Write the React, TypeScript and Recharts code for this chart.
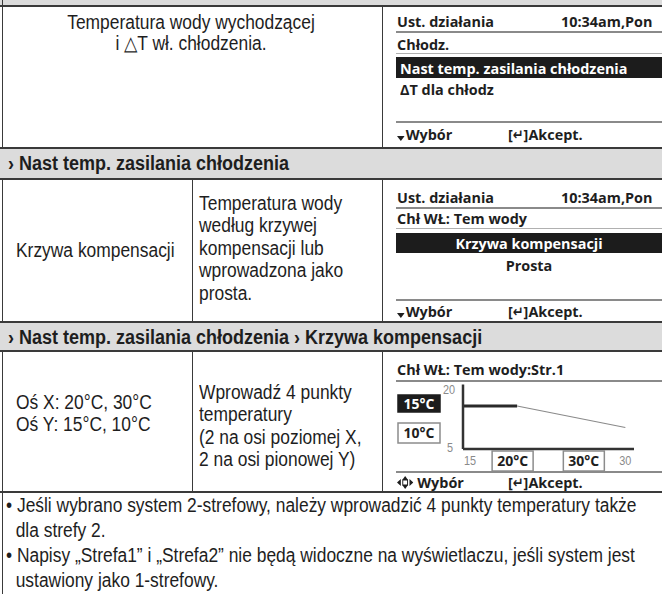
import React from 'react';
import { LineChart, Line, XAxis, YAxis } from 'recharts';

// Krzywa kompensacji (chłodzenie, strefa 1)
const outdoorTemps = [15, 20, 30]; // oś X, °C
const flatSegment = [15, 15, null]; // stała temp. wody do 20°C
const slopeSegment = [null, 15, 10]; // spadek do 10°C przy 30°C
const xTicks = [15, 20, 30];
const yTicks = [5, 10, 15, 20];
const xLimitLabels = ['15', '', '30'];
const xSetpointLabels = ['', '20°C', '30°C'];
const yLimitLabels = ['5', '', '', '20'];
const ySetpointLabels = ['', '10°C', '15°C', ''];

const curveData = outdoorTemps.map((x, i) => ({ x, flat: flatSegment[i], slope: slopeSegment[i] }));

const SANS = '"Liberation Sans", Arial, sans-serif';
const LCD = '"Open Sans", "DejaVu Sans Condensed", sans-serif';
const SQUEEZE = 0.87; // no narrow font installed, so Arial-like text is squeezed
const SQUEEZE_BOLD = 0.9;
const SQUEEZE_LCD = 0.96;
const BORDER = '#3a3a3a';
const BAND = '#dcdcdc';
const INK = '#1e1e1e';

const squeezeAt = (x: number) => `translate(${x * (1 - SQUEEZE)} 0) scale(${SQUEEZE} 1)`;

const YTick = (props: any) => {
  const { x, y, payload } = props;
  const i = yTicks.indexOf(payload.value);
  if (yLimitLabels[i]) {
    const top = payload.value === 20;
    const lx = x - (top ? 20 : 16);
    return (
      <text x={lx} y={y + (top ? 10 : 3)} fontSize={12.5} fill="#8a8a8a" fontFamily={SANS} transform={squeezeAt(lx)}>
        {yLimitLabels[i]}
      </text>
    );
  }
  const selected = payload.value === 15;
  const by = selected ? y - 11 : y - 4.5;
  const bh = selected ? 17 : 20;
  return (
    <g>
      <rect x={x - 65} y={by} width={42} height={bh} fill={selected ? '#1c1c1c' : '#fff'} stroke={selected ? '#1c1c1c' : '#8c8c8c'} strokeWidth={1.5} />
      <text x={x - 44} y={by + bh / 2 + 5} textAnchor="middle" fontSize={14} fontWeight={700} fill={selected ? '#fff' : INK} fontFamily={LCD}>
        {ySetpointLabels[i]}
      </text>
    </g>
  );
};

const XTick = (props: any) => {
  const { x, y, payload } = props;
  const i = xTicks.indexOf(payload.value);
  const bx = payload.value === 30 ? x - 62 : x - 25;
  const lx = x + (i === 0 ? 7 : 0);
  return (
    <g>
      {xLimitLabels[i] && (
        <text x={lx} y={y + 16} textAnchor="middle" fontSize={12.5} fill="#8a8a8a" fontFamily={SANS} transform={squeezeAt(lx)}>
          {xLimitLabels[i]}
        </text>
      )}
      {xSetpointLabels[i] && (
        <g>
          <rect x={bx} y={y + 2} width={41} height={20} fill="#fff" stroke="#8c8c8c" strokeWidth={1.5} />
          <text x={bx + 20.5} y={y + 17} textAnchor="middle" fontSize={14} fontWeight={700} fill={INK} fontFamily={LCD}>
            {xSetpointLabels[i]}
          </text>
        </g>
      )}
    </g>
  );
};

const abs = (left: number, top: number, extra: React.CSSProperties = {}): React.CSSProperties => ({
  position: 'absolute',
  left,
  top,
  whiteSpace: 'nowrap',
  ...extra,
});

const HRule = ({ y, h = 2, x = 0, w = 662, c = BORDER }: any) => (
  <div style={abs(x, y, { width: w, height: h, background: c })} />
);
const VRule = ({ x, y1, y2, c = BORDER }: any) => (
  <div style={abs(x, y1, { width: 1, height: y2 - y1, background: c })} />
);

// squeezed body text block
const Txt = ({ x, y, w, lh = 22.5, bold, center, children }: any) => {
  const k = bold ? SQUEEZE_BOLD : SQUEEZE;
  return (
    <div
      style={abs(x, y, {
        fontFamily: SANS,
        fontSize: 20,
        lineHeight: `${lh}px`,
        fontWeight: bold ? 'bold' : 'normal',
        transform: `scaleX(${k})`,
        transformOrigin: '0 0',
        width: w ? w / k : undefined,
        textAlign: center ? 'center' : 'left',
      })}
    >
      {children}
    </div>
  );
};

// single LCD text line, positioned by its vertical centre
const Lt = ({ x, cy, w, center, color = INK, children }: any) => (
  <div
    style={abs(x, cy - 9, {
      lineHeight: '18px',
      fontFamily: LCD,
      fontWeight: 700,
      fontSize: 15,
      color,
      transform: `scaleX(${SQUEEZE_LCD})`,
      transformOrigin: '0 0',
      width: w ? w / SQUEEZE_LCD : undefined,
      textAlign: center ? 'center' : 'left',
    })}
  >
    {children}
  </div>
);

const DownArrow = () => (
  <svg width={8} height={5} style={{ marginRight: 1, verticalAlign: -1 }}>
    <path d="M0 0 L8 0 L4 5 Z" fill={INK} />
  </svg>
);

const CrossArrows = () => (
  <svg width={17} height={13} style={{ marginRight: 4, verticalAlign: -1 }}>
    <path d="M0 6.5 L4 3 L4 10 Z M17 6.5 L13 3 L13 10 Z M8.5 0 L5.5 4 L11.5 4 Z M8.5 13 L5.5 9 L11.5 9 Z" fill={INK} />
    <rect x={6} y={4} width={5} height={5} fill="none" stroke={INK} strokeWidth={1} />
  </svg>
);

const Footer = ({ cy, cross }: any) => (
  <>
    <Lt x={397} cy={cy}>
      {cross ? <CrossArrows /> : <DownArrow />}Wybór
    </Lt>
    <Lt x={508} cy={cy}>[↵]Akcept.</Lt>
  </>
);

const App: React.FC = () => {
  return (
    <div style={{ position: 'relative', width: 662, height: 594, background: '#fff', overflow: 'hidden', fontFamily: SANS, color: INK }}>
      <style>{'body{margin:0}'}</style>

      {/* grid */}
      <div style={abs(0, 0, { width: 662, height: 5, background: BAND })} />
      <HRule y={5} h={1.5} />
      <VRule x={2} y1={0} y2={594} />
      <VRule x={382} y1={5} y2={148} />
      <HRule y={147} />
      <div style={abs(0, 149, { width: 662, height: 29, background: BAND })} />
      <HRule y={178} h={1.5} />
      <VRule x={192} y1={178} y2={322} />
      <VRule x={382} y1={178} y2={322} />
      <HRule y={321} />
      <div style={abs(0, 323, { width: 662, height: 27, background: BAND })} />
      <HRule y={350} h={1.5} />
      <VRule x={192} y1={350} y2={492} />
      <VRule x={382} y1={350} y2={492} />
      <HRule y={491} />

      {/* row 1 */}
      <Txt x={0} y={11.5} w={382} lh={21} center>
        Temperatura wody wychodzącej
        <br />i △T wł. chłodzenia.
      </Txt>
      <Lt x={397} cy={21}>Ust. działania</Lt>
      <Lt x={561} cy={21}>10:34am,Pon</Lt>
      <HRule x={396} y={31} w={266} h={2} c="#8a8a8a" />
      <Lt x={397} cy={44}>Chłodz.</Lt>
      <HRule x={396} y={53} w={266} h={1} c="#b0b0b0" />
      <div style={abs(396, 57, { width: 266, height: 21, background: '#1c1c1c' })} />
      <Lt x={400} cy={67.5} color="#fff">Nast temp. zasilania chłodzenia</Lt>
      <Lt x={400} cy={89}>ΔT dla chłodz</Lt>
      <HRule x={396} y={121} w={266} h={2} c="#8a8a8a" />
      <Footer cy={134} />

      {/* band 1 */}
      <Txt x={8} y={152} lh={22} bold>› Nast temp. zasilania chłodzenia</Txt>

      {/* row 3 */}
      <Txt x={16} y={239} lh={22}>Krzywa kompensacji</Txt>
      <Txt x={199} y={191.75}>
        Temperatura wody
        <br />według krzywej
        <br />kompensacji lub
        <br />wprowadzona jako
        <br />prosta.
      </Txt>
      <Lt x={397} cy={197}>Ust. działania</Lt>
      <Lt x={561} cy={197}>10:34am,Pon</Lt>
      <HRule x={396} y={207} w={266} h={2} c="#8a8a8a" />
      <Lt x={397} cy={218}>Chł WŁ: Tem wody</Lt>
      <HRule x={396} y={228} w={266} h={1} c="#b0b0b0" />
      <div style={abs(396, 233, { width: 266, height: 20, background: '#1c1c1c' })} />
      <Lt x={396} cy={243} w={266} center color="#fff">Krzywa kompensacji</Lt>
      <Lt x={396} cy={265} w={266} center>Prosta</Lt>
      <HRule x={396} y={299} w={266} h={2} c="#8a8a8a" />
      <Footer cy={311} />

      {/* band 2 */}
      <Txt x={8} y={326} lh={22} bold>› Nast temp. zasilania chłodzenia › Krzywa kompensacji</Txt>

      {/* row 4 */}
      <Txt x={16} y={391} lh={22}>
        Oś X: 20°C, 30°C
        <br />Oś Y: 15°C, 10°C
      </Txt>
      <Txt x={199} y={380.75}>
        Wprowadź 4 punkty
        <br />temperatury
        <br />(2 na osi poziomej X,
        <br />2 na osi pionowej Y)
      </Txt>
      <Lt x={397} cy={369}>Chł WŁ: Tem wody:Str.1</Lt>
      <HRule x={396} y={380} w={266} h={2} c="#8a8a8a" />
      <div style={abs(396, 381)}>
        <LineChart width={266} height={91} data={curveData} margin={{ top: 3.5, right: 28, bottom: 0, left: 0 }}>
          <XAxis
            dataKey="x"
            type="number"
            domain={[15, 30.8]}
            ticks={xTicks}
            interval={0}
            height={23}
            tickSize={0}
            tickMargin={0}
            tickLine={false}
            axisLine={{ stroke: '#333', strokeWidth: 2.5 }}
            tick={<XTick />}
          />
          <YAxis
            type="number"
            domain={[5, 20]}
            ticks={yTicks}
            interval={0}
            width={67}
            tickSize={0}
            tickMargin={0}
            tickLine={false}
            axisLine={{ stroke: '#333', strokeWidth: 2.5 }}
            tick={<YTick />}
          />
          <Line dataKey="flat" stroke="#2a2a2a" strokeWidth={3} dot={false} isAnimationActive={false} connectNulls={false} />
          <Line dataKey="slope" stroke="#8a8a8a" strokeWidth={1.2} dot={false} isAnimationActive={false} connectNulls={false} />
        </LineChart>
      </div>
      <HRule x={396} y={471} w={266} h={2} c="#8a8a8a" />
      <Footer cy={482} cross />

      {/* notes */}
      <Txt x={6} y={493} lh={25}>
        • Jeśli wybrano system 2-strefowy, należy wprowadzić 4 punkty temperatury także
        <br />
        {'\u00a0\u00a0'}dla strefy 2.
        <br />• Napisy „Strefa1” i „Strefa2” nie będą widoczne na wyświetlaczu, jeśli system jest
        <br />
        {'\u00a0\u00a0'}ustawiony jako 1-strefowy.
      </Txt>
    </div>
  );
};

export default App;
